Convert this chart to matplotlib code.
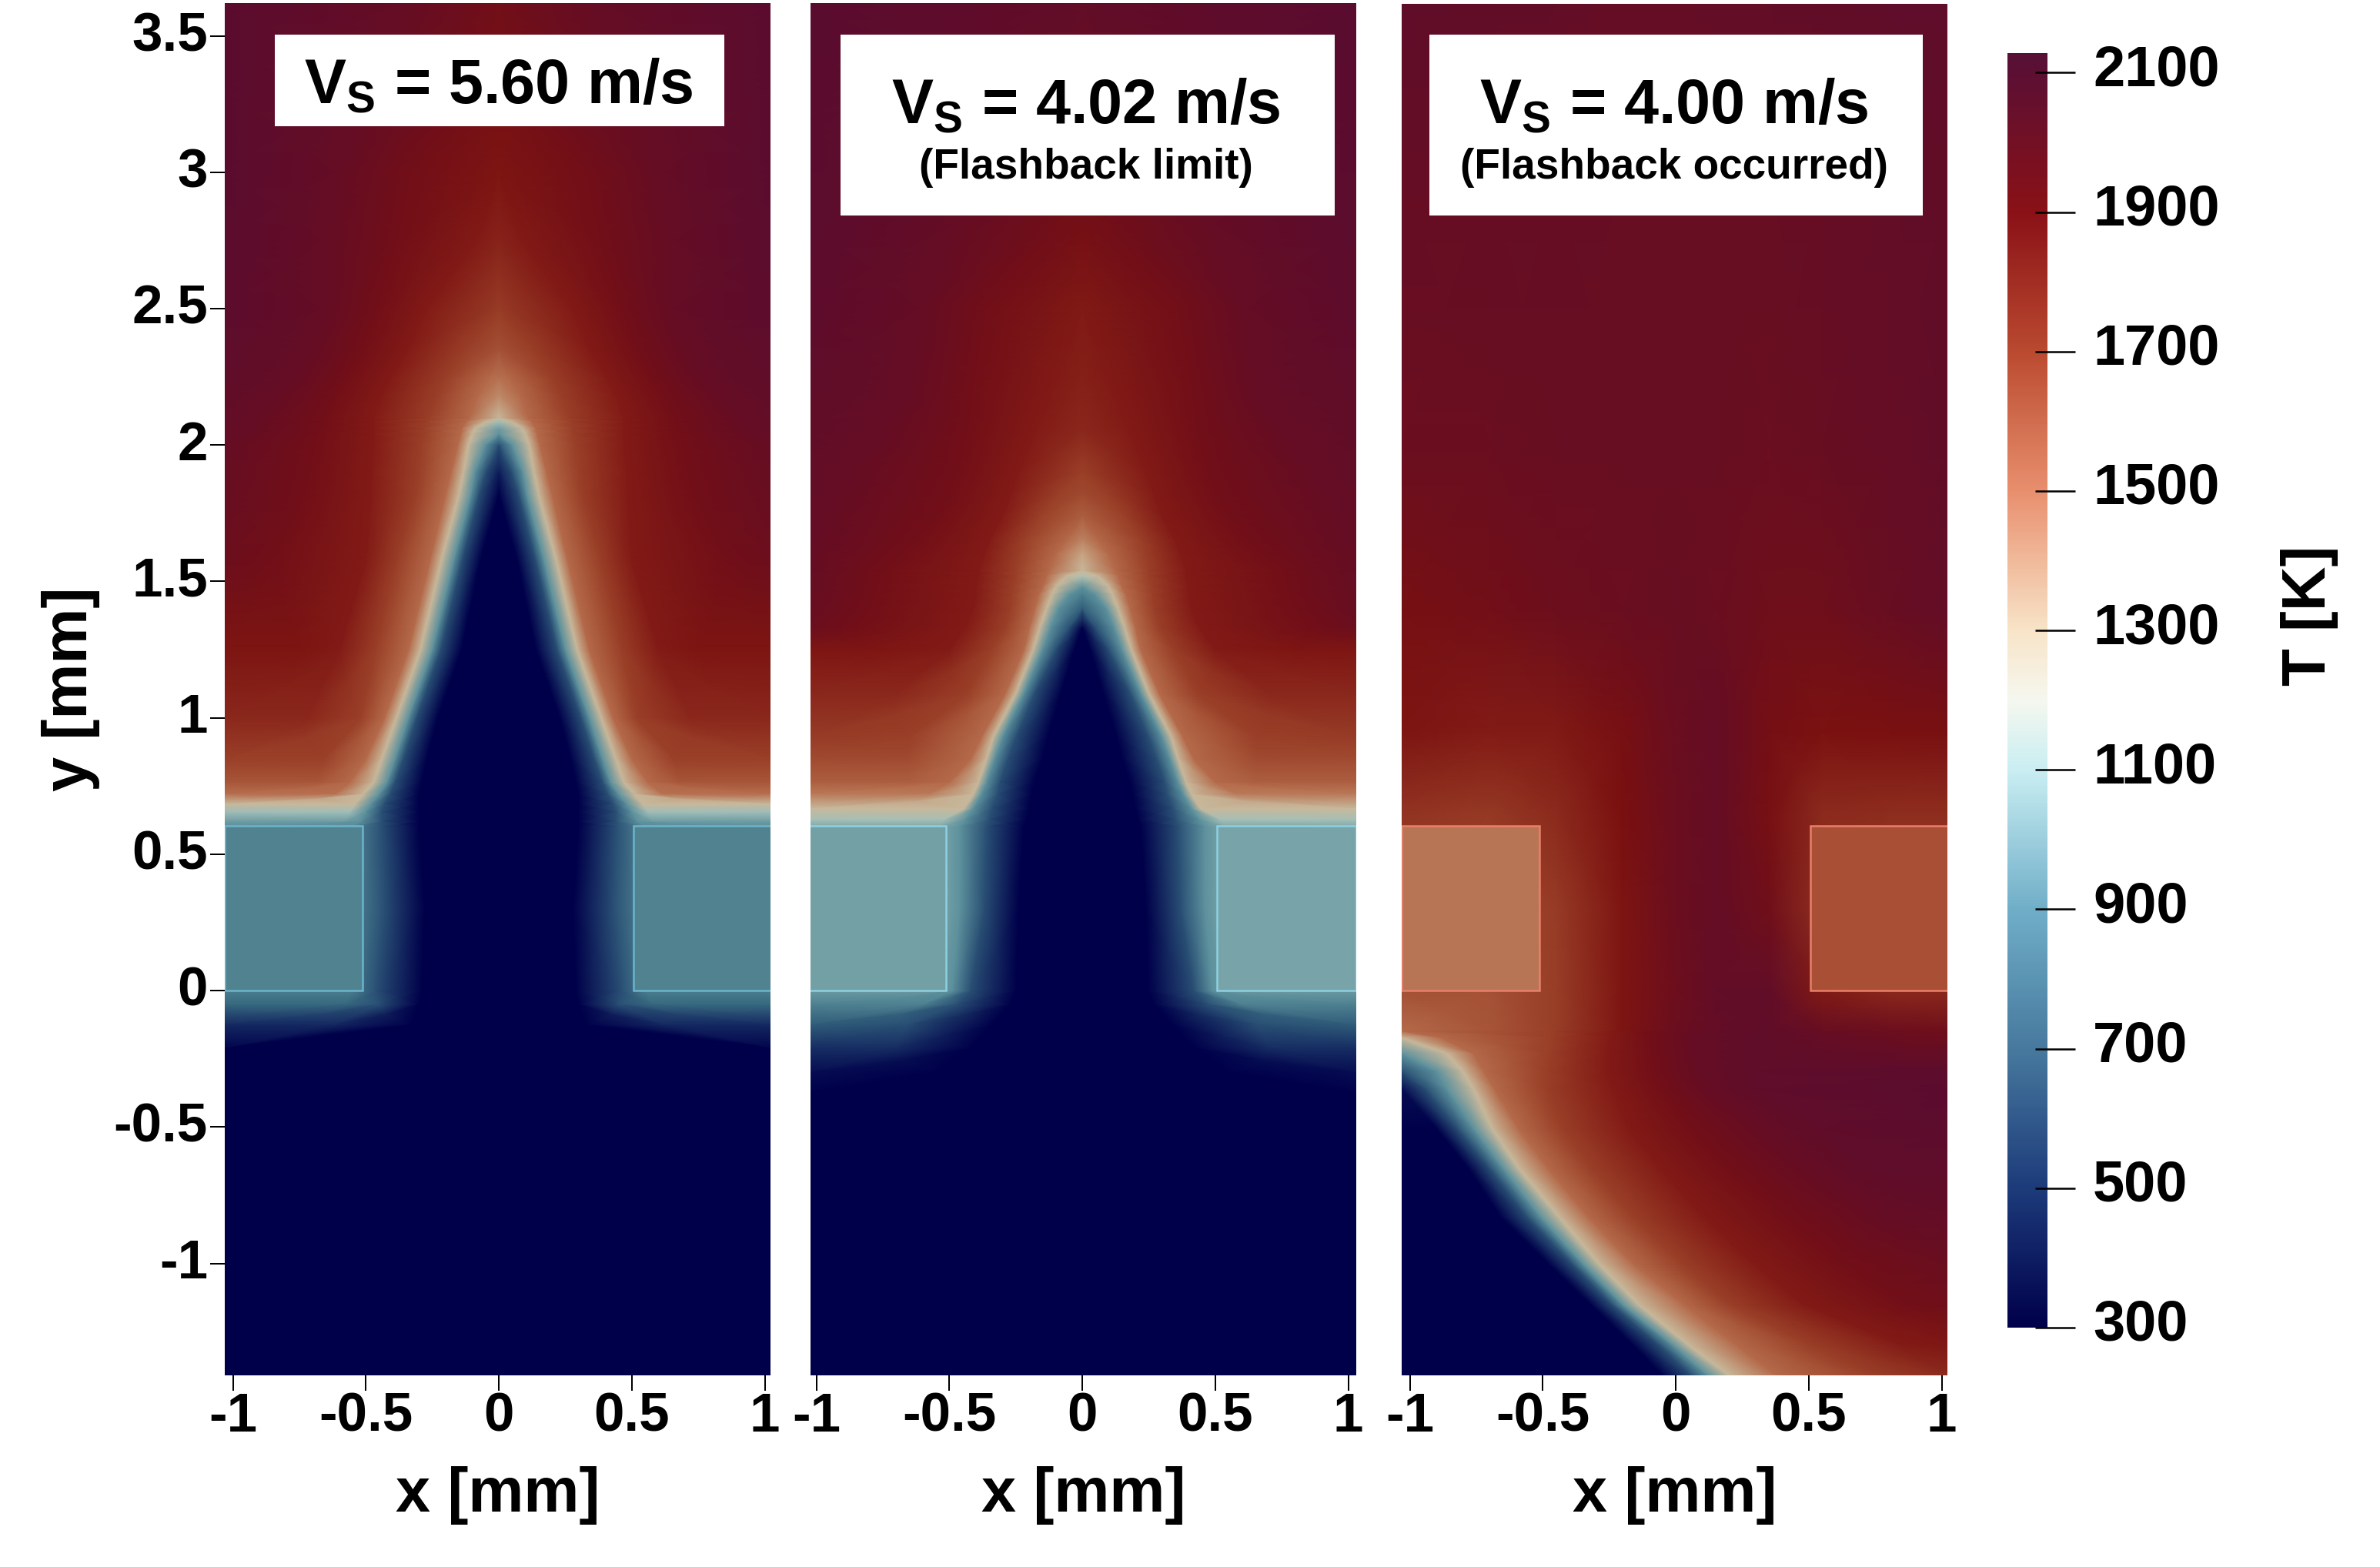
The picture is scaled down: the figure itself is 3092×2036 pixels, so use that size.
import numpy as np
import matplotlib
matplotlib.use("Agg")
import matplotlib.pyplot as plt
from matplotlib.colors import LinearSegmentedColormap, Normalize
from matplotlib.cm import ScalarMappable
from matplotlib.patches import Rectangle
from matplotlib.transforms import ScaledTranslation

plt.rcParams["font.family"] = ["Liberation Sans", "DejaVu Sans"]
plt.rcParams["font.weight"] = "bold"
plt.rcParams["axes.labelweight"] = "bold"
plt.rcParams["mathtext.fontset"] = "custom"
plt.rcParams["mathtext.bf"] = "Liberation Sans:bold"
plt.rcParams["mathtext.rm"] = "Liberation Sans:bold"

W, H = 3092, 2036
L, R = -1.03, 1.03

# colour scale of the bar, T [K] -> colour
CMAP_T = [300, 500, 700, 900, 1100, 1200, 1300, 1500, 1700, 1900, 2100, 2128]
CMAP_C = ["#00004a", "#1d3b7a", "#47799e", "#70aec8", "#c9eef2", "#f5f7ef",
          "#f8e4c8", "#e88f6e", "#ba4a30", "#8a1116", "#5c0f33", "#571035"]
# the fields look more muted than the bar
FIELD_T = [300, 500, 700, 900, 1100, 1200, 1300, 1500, 1700, 1900, 2100, 2128]
FIELD_C = ["#00004a", "#1a3568", "#37697f", "#5d919d", "#9fbdb7", "#c6c5ad",
           "#c9ab8a", "#b46a4a", "#9a4028", "#7a1010", "#5a0c30", "#560d33"]
CBAR_TICKS = [300, 500, 700, 900, 1100, 1300, 1500, 1700, 1900, 2100]

# isotherm levels the tables below are read at
LEVELS = [300, 600, 900, 1250, 1500, 1700, 1850, 1950, 2030]

# panel 1: half width of each isotherm per row
P1_Y = [3.62, 3.3, 3.0, 2.75, 2.5, 2.35, 2.24, 2.18, 2.10, 2.085, 2.06, 2.04, 2.00, 1.9, 1.82, 1.575, 1.25, 1.0,
        0.85, 0.765, 0.72, 0.685, 0.655, 0.62, 0.60, 0.3, 0.0, -0.05, -0.125, -0.21, -1.41]
P1_CENTER = [1950, 1920, 1880, 1820, 1720, 1620, 1470, 1400, 1250, 1100, 950, 900, 600, 400, 300, 300, 300, 300,
             300, 300, 300, 300, 300, 300, 300, 300, 300, 300, 300, 300, 300]
P1_EDGE = [2095, 2095, 2090, 2085, 2080, 2070, 2060, 2050, 2045, 2042, 2038, 2035, 2025, 2020, 2010, 1980, 1880, 1800,
           1700, 1600, 1480, 1250, 1100, 950, 880, 820, 800, 700, 450, 320, 300]
P1_HW = [
    [0, 0, 0, 0, 0, 0, 0, 0, .38],
    [0, 0, 0, 0, 0, 0, 0, .10, .52],
    [0, 0, 0, 0, 0, 0, 0, .33, .62],
    [0, 0, 0, 0, 0, 0, .08, .38, .66],
    [0, 0, 0, 0, 0, 0, .27, .46, .66],
    [0, 0, 0, 0, 0, .12, .34, .52, .72],
    [0, 0, 0, 0, .04, .20, .41, .58, .78],
    [0, 0, 0, 0, .08, .23, .44, .62, .85],
    [0, 0, 0, 0, .11, .26, .47, .66, .92],
    [0, 0, 0, .05, .125, .27, .47, .66, .93],
    [0, 0, 0, .09, .14, .28, .47, .67, .95],
    [0, 0, 0, .10, .145, .28, .47, .68, .97],
    [0, 0, .05, .115, .155, .29, .47, .69, R],
    [0, .05, .09, .133, .18, .30, .48, .71, R],
    [0, .075, .105, .15, .20, .31, .48, .73, R],
    [.07, .14, .17, .217, .26, .38, .50, .85, R],
    [.14, .22, .25, .295, .34, .46, .60, .75, R],
    [.23, .31, .34, .385, .43, .52, .72, R, R],
    [.27, .36, .39, .44, .50, .66, R, R, R],
    [.29, .39, .42, .47, .56, .68, R, R, R],
    [.30, .41, .45, .51, .62, R, R, R, R],
    [.30, .43, .48, .54, R, R, R, R, R],
    [.30, .44, .50, .56, R, R, R, R, R],
    [.30, .44, .52, .58, R, R, R, R, R],
    [.30, .44, .56, R, R, R, R, R, R],
    [.28, .43, .54, R, R, R, R, R, R],
    [.29, .46, .55, R, R, R, R, R, R],
    [.30, .45, .58, R, R, R, R, R, R],
    [.33, .62, R, R, R, R, R, R, R],
    [R, R, R, R, R, R, R, R, R],
    [R, R, R, R, R, R, R, R, R],
]

# panel 2
P2_Y = [3.62, 3.2, 2.8, 2.5, 2.22, 2.06, 1.90, 1.82, 1.74, 1.65, 1.60, 1.54, 1.52, 1.48, 1.45, 1.40, 1.33, 1.25, 1.09,
        0.93, 0.85, 0.765, 0.72, 0.668, 0.627, 0.60, 0.3, 0.0, -0.05, -0.125, -0.21, -0.30, -0.38, -1.41]
P2_CENTER = [2040, 2000, 1930, 1860, 1830, 1800, 1700, 1650, 1560, 1420, 1320, 1250, 1150, 900, 800, 650, 300, 300, 300,
             300, 300, 300, 300, 300, 300, 300, 300, 300, 300, 300, 300, 300, 300, 300]
P2_EDGE = [2100, 2095, 2085, 2075, 2060, 2050, 2040, 2038, 2035, 2030, 2028, 2025, 2022, 2018, 2015, 2010, 1985, 1875, 1800,
           1720, 1650, 1560, 1450, 1250, 1120, 1000, 950, 940, 820, 650, 470, 350, 300, 300]
P2_HW = [
    [0, 0, 0, 0, 0, 0, 0, 0, 0],
    [0, 0, 0, 0, 0, 0, 0, 0, .20],
    [0, 0, 0, 0, 0, 0, 0, .10, .50],
    [0, 0, 0, 0, 0, 0, 0, .36, .62],
    [0, 0, 0, 0, 0, 0, .10, .41, .66],
    [0, 0, 0, 0, 0, 0, .17, .43, .75],
    [0, 0, 0, 0, 0, 0, .24, .47, .90],
    [0, 0, 0, 0, 0, .09, .27, .50, .95],
    [0, 0, 0, 0, 0, .16, .30, .55, 1.0],
    [0, 0, 0, 0, .06, .22, .35, .62, R],
    [0, 0, 0, 0, .10, .235, .37, .68, R],
    [0, 0, 0, 0, .125, .25, .39, .75, R],
    [0, 0, 0, .06, .135, .25, .39, .76, R],
    [0, 0, 0, .10, .15, .26, .40, .77, R],
    [0, 0, .05, .115, .165, .265, .40, .78, R],
    [0, 0, .09, .135, .18, .27, .41, .80, R],
    [0, .05, .12, .16, .20, .29, .44, .85, R],
    [.03, .10, .15, .185, .22, .34, .50, .80, R],
    [.08, .18, .22, .25, .29, .43, .70, R, R],
    [.13, .25, .30, .335, .38, .65, R, R, R],
    [.15, .28, .33, .36, .42, .66, R, R, R],
    [.18, .31, .36, .39, .50, .66, R, R, R],
    [.19, .32, .38, .41, .58, R, R, R, R],
    [.20, .34, .41, .444, R, R, R, R, R],
    [.21, .35, .44, .52, R, R, R, R, R],
    [.22, .36, .46, .54, R, R, R, R, R],
    [.24, .37, .46, .50, R, R, R, R, R],
    [.25, .42, .49, .54, R, R, R, R, R],
    [.27, .47, .60, R, R, R, R, R, R],
    [.34, .66, R, R, R, R, R, R, R],
    [.42, .70, R, R, R, R, R, R, R],
    [.55, R, R, R, R, R, R, R, R],
    [R, R, R, R, R, R, R, R, R],
    [R, R, R, R, R, R, R, R, R],
]

# panel 3, above the flame: plain grid of temperatures
P3_GRID_X = [L, -0.7, -0.45, -0.2, 0.0, 0.15, 0.35, 0.55, 0.8, R]
P3_GRID_Y = [3.62, 3.0, 2.0, 1.4, 0.95, 0.65, 0.3, 0.0, -0.147]
P3_GRID_T = [
    [2060, 2050, 2040, 2030, 2030, 2040, 2040, 2050, 2060, 2070],
    [2030, 2030, 2030, 2020, 2020, 2020, 2020, 2030, 2040, 2050],
    [1990, 2000, 2010, 2010, 2010, 2010, 2000, 2010, 2030, 2050],
    [1920, 1950, 1980, 2000, 2010, 2000, 1970, 1970, 2010, 2040],
    [1880, 1850, 1860, 1920, 2000, 2030, 1930, 1890, 1900, 1910],
    [1750, 1730, 1790, 1900, 1990, 2030, 1920, 1790, 1780, 1780],
    [1650, 1650, 1720, 1880, 1990, 2030, 1960, 1770, 1700, 1700],
    [1620, 1620, 1710, 1880, 1980, 2040, 2050, 1860, 1800, 1800],
    [1500, 1600, 1710, 1880, 1990, 2035, 2060, 2010, 1985, 1960],
]

# panel 3, below: x of each isotherm per row, from the left edge
P3_LEVELS = LEVELS + [2060]
P3_Y = [-0.147, -0.172, -0.23, -0.295, -0.36, -0.505, -0.65, -0.827, -1.0, -1.15, -1.3, -1.41]
P3_LEFT = [1500, 1250, 900, 600, 350, 300, 300, 300, 300, 300, 300, 300]
P3_EDGE = [1960, 1980, 2030, 2080, 2090, 2085, 2070, 2045, 2000, 1960, 1870, 1790]
P3_CAP = [2060, 2060, 2060, 2060, 2060, 2060, 2060, 2045, 2000, 1960, 1870, 1790]
P3_X = [
    [L, L, L, L, L, -.47, -.25, -.10, .08, .30],
    [L, L, L, L, -.88, -.47, -.25, -.10, .08, .30],
    [L, L, L, -.86, -.76, -.48, -.26, -.09, .08, .30],
    [L, L, -.90, -.80, -.72, -.49, -.26, -.08, .10, .28],
    [L, -.94, -.86, -.76, -.68, -.49, -.24, -.05, .14, .30],
    [-.90, -.82, -.76, -.69, -.59, -.43, -.18, .06, .34, .55],
    [-.78, -.70, -.65, -.59, -.48, -.32, -.06, .20, .52, .72],
    [-.66, -.56, -.51, -.44, -.33, -.165, .10, .41, .80, R],
    [-.48, -.39, -.35, -.29, -.16, .02, .29, .63, R, R],
    [-.32, -.24, -.20, -.14, .03, .20, .48, .87, R, R],
    [-.16, -.06, -.01, .05, .23, .50, .85, R, R, R],
    [-.05, .06, .12, .20, .38, .73, R, R, R, R],
]

X_TICKS = [-1, -0.5, 0, 0.5, 1]
X_LABELS = ["-1", "-0.5", "0", "0.5", "1"]
Y_TICKS = [3.5, 3, 2.5, 2, 1.5, 1, 0.5, 0, -0.5, -1]
Y_LABELS = ["3.5", "3", "2.5", "2", "1.5", "1", "0.5", "0", "-0.5", "-1"]

TITLES = ["5.60", "4.02", "4.00"]
SUBTITLES = [None, "(Flashback limit)", "(Flashback occurred)"]

# wall block colours: left fill, right fill, edge
WALL_COLORS = [("#50828f", "#50828f", "#6bb4cc"),
               ("#72a0a5", "#78a3a8", "#8dd0e2"),
               ("#b87555", "#a84f35", "#e8806a")]


def px(n):
    # pixels to points at dpi 100
    return n * 72 / 100


def add_axes_px(x0, y0, x1, y1):
    return fig.add_axes([x0 / W, 1 - y1 / H, (x1 - x0) / W, (y1 - y0) / H])


def isotherm_mesh(ys, start, end, table, x0, x1, levels=LEVELS, cap=None):
    ys = np.array(ys)
    table = np.array(table, dtype=float)
    n = len(ys)
    if cap is None:
        cap = end
    X = np.column_stack([np.full(n, x0), table, np.full(n, x1)])
    T = np.column_stack([start, np.clip(np.tile(levels, (n, 1)).T, start, cap).T, end])
    Y = np.tile(ys, (X.shape[1], 1)).T
    return X, Y, T


def make_cmap(name, temps, colors):
    return LinearSegmentedColormap.from_list(
        name, [((t - 300) / (2128 - 300), c) for t, c in zip(temps, colors)], N=512)


def raise_labels(labels, n):
    # tick labels sit a little above their ticks in the original
    for lab in labels:
        lab.set_transform(lab.get_transform() + ScaledTranslation(0, n / 100, fig.dpi_scale_trans))


fig = plt.figure(figsize=(W / 100, H / 100), dpi=100)
bar_cmap = make_cmap("bar", CMAP_T, CMAP_C)
field_cmap = make_cmap("field", FIELD_T, FIELD_C)
norm = Normalize(300, 2128)

panels = [(292, 4, 1001, 1787, 648), (1053, 4, 1762, 1787, 1406), (1821, 5, 2530, 1787, 2177)]
axes = []
for (x0, y0, x1, y1, xc) in panels:
    ax = add_axes_px(x0, y0, x1, y1)
    ax.set_xlim((x0 - xc) / 345.5, (x1 - xc) / 345.5)
    ax.set_ylim(-1.41, 3.62)
    axes.append(ax)

kw = dict(shading="gouraud", cmap=field_cmap, norm=norm, rasterized=True)

# mirrored flames
for ax, ys, c, e, hw in [(axes[0], P1_Y, P1_CENTER, P1_EDGE, P1_HW),
                         (axes[1], P2_Y, P2_CENTER, P2_EDGE, P2_HW)]:
    X, Y, T = isotherm_mesh(ys, c, e, hw, 0.0, R)
    ax.pcolormesh(X, Y, T, **kw)
    ax.pcolormesh(-X, Y, T, **kw)

# flashback panel
gx, gy = np.meshgrid(P3_GRID_X, P3_GRID_Y)
axes[2].pcolormesh(gx, gy, np.array(P3_GRID_T, dtype=float), **kw)
X, Y, T = isotherm_mesh(P3_Y, P3_LEFT, P3_EDGE, P3_X, L, R, levels=P3_LEVELS, cap=P3_CAP)
axes[2].pcolormesh(X, Y, T, **kw)

for i, ax in enumerate(axes):
    left_c, right_c, edge_c = WALL_COLORS[i]
    ax.add_patch(Rectangle((L, 0), 0.517, 0.604, fc=left_c, ec=edge_c, lw=px(2.5), zorder=3))
    ax.add_patch(Rectangle((0.506, 0), 0.524, 0.604, fc=right_c, ec=edge_c, lw=px(2.5), zorder=3))
    for s in ax.spines.values():
        s.set_visible(False)
    ax.set_xticks(X_TICKS)
    ax.set_xticklabels(X_LABELS, fontsize=px(71))
    ax.tick_params(axis="x", length=px(20), width=px(2), pad=px(2))
    ax.set_xlabel("x [mm]", fontsize=px(81), va="top")
    ax.xaxis.set_label_coords(0.5, -0.066)
    if i == 0:
        ax.set_yticks(Y_TICKS)
        ax.set_yticklabels(Y_LABELS, fontsize=px(71))
        ax.tick_params(axis="y", length=px(19), width=px(2), pad=px(3))
        raise_labels(ax.get_yticklabels(), 6)
        ax.set_ylabel("y [mm]", fontsize=px(81))
        ax.yaxis.set_label_coords(-0.228, 0.5)
    else:
        ax.set_yticks([])

# title boxes
boxes = [(357, 45, 941, 164), (1092, 45, 1734, 280), (1857, 45, 2498, 280)]
title_pos = [(648, 135), (1411, 161), (2175, 161)]
for (x0, y0, x1, y1), (tx, ty), val, sub in zip(boxes, title_pos, TITLES, SUBTITLES):
    fig.add_artist(Rectangle((x0 / W, 1 - y1 / H), (x1 - x0) / W, (y1 - y0) / H,
                             transform=fig.transFigure, fc="white", ec="none", zorder=5))
    fig.text(tx / W, 1 - ty / H, r"$\mathbf{V_S}$ = " + val + " m/s", fontsize=px(81),
             ha="center", va="baseline", zorder=6)
    if sub:
        fig.text(tx / W, 1 - 232 / H, sub, fontsize=px(55), ha="center", va="baseline", zorder=6)

# colorbar
cax = add_axes_px(2608, 69, 2660, 1725)
cb = fig.colorbar(ScalarMappable(norm=norm, cmap=bar_cmap), cax=cax)
cb.outline.set_visible(False)
cb.set_ticks([])

tax = add_axes_px(2608, 69, 2644, 1725)
tax.patch.set_visible(False)
for s in tax.spines.values():
    s.set_visible(False)
tax.set_xticks([])
tax.set_ylim(300, 2128)
tax.yaxis.tick_right()
tax.set_yticks(CBAR_TICKS)
tax.set_yticklabels([str(t) for t in CBAR_TICKS], fontsize=px(74))
tax.tick_params(axis="y", length=px(52), width=px(2.5), pad=px(23))
raise_labels(tax.get_yticklabels(), 10)

fig.text(3000 / W, 1 - 800 / H, "T [K]", fontsize=px(80), rotation=90, ha="center", va="center")

fig.savefig("out.png", dpi=100, facecolor="white")
